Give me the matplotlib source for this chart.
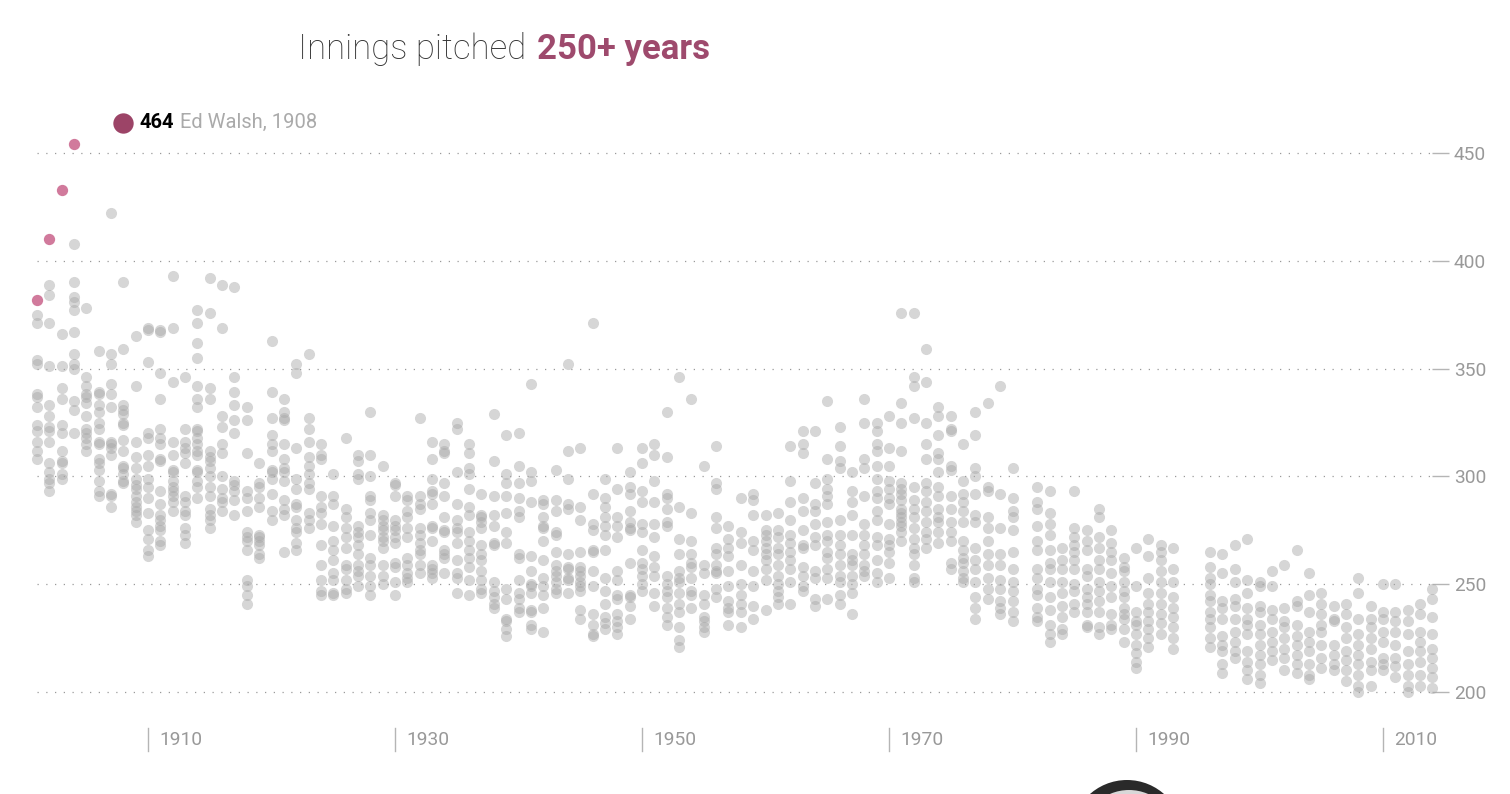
import matplotlib.pyplot as plt
from matplotlib.patches import Ellipse

# innings pitched by pitchers with 250+ IP, one list per season
years = list(range(1901, 1981)) + list(range(1982, 1994)) + list(range(1996, 2015))

innings = [
    [375, 371, 354, 352, 338, 337, 332, 324, 321, 316, 312, 308],  # 1901
    [389, 384, 371, 351, 333, 328, 323, 321, 316, 306, 302, 299, 297, 293],
    [366, 351, 341, 336, 324, 320, 312, 307, 306, 301, 299],
    [408, 390, 383, 381, 377, 367, 357, 352, 350, 335, 331, 320],
    [378, 346, 342, 338, 337, 334, 328, 322, 320, 318, 315, 312],
    [358, 339, 338, 333, 330, 325, 322, 316, 315, 308, 306, 303, 298, 293, 291],
    [422, 357, 352, 343, 338, 332, 316, 315, 313, 310, 292, 291, 286],
    [390, 359, 333, 331, 329, 325, 324, 317, 312, 305, 304, 301, 298, 297],
    [365, 342, 316, 309, 304, 299, 296, 294, 291, 288, 286, 284, 282, 279],
    [369, 368, 353, 320, 318, 310, 305, 299, 295, 290, 283, 275, 271, 266, 263],  # 1910
    [368, 367, 348, 336, 322, 318, 315, 308, 307, 293, 287, 282, 280, 277, 275, 270, 268],
    [393, 369, 344, 316, 310, 303, 302, 298, 295, 293, 291, 288, 284],
    [346, 322, 316, 313, 311, 306, 291, 288, 284, 282, 276, 273, 269],
    [377, 371, 362, 355, 342, 336, 332, 322, 321, 318, 315, 312, 310, 303, 302, 298, 295, 290],
    [392, 376, 341, 336, 312, 309, 307, 304, 300, 295, 291, 285, 282, 280, 276],
    [389, 369, 328, 323, 315, 311, 300, 294, 290, 288, 284],
    [388, 346, 339, 333, 326, 320, 298, 296, 293, 289, 282],
    [332, 326, 311, 293, 290, 284, 274, 272, 270, 266, 252, 249, 245, 241],
    [306, 297, 295, 290, 286, 273, 272, 270, 268, 264, 262],
    [363, 339, 327, 319, 315, 312, 303, 302, 299, 292, 284, 280],  # 1920
    [336, 330, 327, 326, 315, 308, 304, 302, 298, 289, 285, 282, 265],
    [352, 348, 313, 299, 294, 287, 286, 280, 276, 274, 269, 266],
    [357, 327, 322, 316, 309, 305, 301, 297, 294, 283, 280, 276],
    [315, 310, 308, 291, 286, 283, 278, 268, 259, 252, 247, 245],
    [301, 291, 287, 277, 270, 266, 261, 255, 252, 246, 245],
    [318, 285, 281, 276, 272, 267, 259, 257, 252, 248, 246],
    [310, 307, 301, 299, 277, 274, 272, 268, 264, 259, 256, 254, 249],
    [330, 310, 300, 291, 289, 283, 280, 273, 262, 259, 254, 249, 245],
    [305, 282, 280, 277, 275, 272, 270, 267, 259, 254, 250],
    [297, 296, 291, 280, 277, 275, 272, 269, 260, 258, 251, 245],  # 1930
    [291, 289, 284, 281, 276, 272, 262, 259, 255, 253, 251],
    [327, 291, 287, 285, 276, 273, 269, 266, 264, 259, 255],
    [316, 308, 299, 293, 292, 287, 277, 276, 270, 259, 257, 255, 253],
    [315, 312, 311, 297, 291, 281, 275, 274, 266, 264, 262, 255],
    [325, 322, 302, 287, 280, 276, 274, 269, 261, 255, 253, 246],
    [315, 311, 304, 301, 294, 286, 282, 274, 270, 266, 262, 258, 252, 245],
    [292, 282, 281, 279, 276, 268, 264, 261, 256, 252, 248, 246],
    [329, 307, 291, 282, 277, 269, 268, 251, 247, 244, 241, 239],
    [319, 301, 297, 291, 283, 274, 269, 248, 243, 234, 233, 229, 226],
    [320, 305, 297, 290, 284, 281, 264, 262, 252, 246, 243, 239, 237],  # 1940
    [343, 302, 298, 288, 263, 256, 250, 249, 246, 238, 237, 231, 229],
    [289, 287, 281, 277, 276, 270, 261, 253, 249, 245, 239, 228],
    [303, 289, 284, 274, 273, 265, 259, 256, 254, 251, 248, 246],
    [352, 312, 299, 287, 285, 264, 258, 257, 253, 252, 246],
    [313, 286, 280, 265, 258, 256, 254, 251, 249, 247, 238, 234],
    [371, 292, 278, 275, 266, 265, 256, 249, 236, 231, 227, 226],
    [299, 290, 286, 281, 277, 273, 266, 253, 247, 241, 235, 232, 229],
    [313, 294, 281, 277, 272, 256, 252, 245, 243, 236, 233, 230, 227],
    [302, 295, 292, 284, 279, 276, 275, 260, 245, 244, 240, 234],
    [313, 306, 293, 288, 278, 274, 266, 260, 257, 254, 250, 247],  # 1950
    [315, 310, 298, 288, 278, 272, 263, 258, 254, 246, 240],
    [330, 309, 292, 290, 285, 279, 277, 254, 250, 247, 244, 239, 235, 231],
    [346, 286, 271, 264, 256, 253, 251, 246, 241, 237, 230, 224, 221],
    [336, 283, 270, 264, 260, 258, 253, 247, 245, 239],
    [305, 259, 255, 245, 241, 235, 233, 230, 228],
    [314, 297, 294, 281, 276, 267, 264, 259, 256, 255, 248, 244],
    [277, 271, 267, 263, 256, 249, 242, 239, 237, 231],
    [290, 274, 269, 259, 250, 245, 241, 237, 230],
    [292, 289, 282, 270, 266, 256, 249, 240, 234],
    [282, 275, 273, 270, 267, 264, 261, 257, 252, 238],  # 1960
    [283, 275, 272, 267, 264, 259, 254, 250, 247, 244, 241],
    [314, 298, 288, 280, 273, 269, 265, 261, 257, 251, 241],
    [321, 315, 311, 290, 284, 275, 268, 267, 258, 254, 249, 247],
    [321, 297, 287, 284, 278, 272, 268, 256, 253, 243, 240],
    [335, 308, 299, 294, 291, 287, 279, 273, 270, 265, 262, 257, 253, 243],
    [323, 314, 307, 304, 280, 273, 268, 264, 259, 254, 251, 245, 241],
    [302, 293, 288, 282, 273, 264, 261, 259, 254, 250, 246, 236],
    [336, 325, 308, 304, 291, 278, 273, 268, 264, 259, 256, 254],
    [325, 321, 315, 312, 305, 299, 293, 290, 284, 280, 272, 268, 261, 255, 251],
    [328, 313, 305, 298, 294, 290, 287, 278, 271, 268, 265, 260, 253],  # 1970
    [376, 334, 325, 312, 297, 294, 292, 289, 285, 283, 281, 279, 277, 274, 270],
    [376, 346, 342, 327, 295, 289, 285, 281, 276, 271, 267, 264, 259, 253, 251],
    [359, 344, 325, 315, 308, 297, 293, 288, 284, 279, 274, 271, 267],
    [332, 328, 319, 311, 308, 302, 295, 291, 285, 281, 279, 274, 269],
    [328, 322, 321, 305, 303, 291, 285, 279, 274, 270, 260, 257],
    [315, 298, 292, 288, 284, 279, 270, 266, 262, 260, 256, 253, 251],
    [330, 319, 304, 300, 292, 282, 279, 267, 261, 257, 251, 244, 239, 234],
    [334, 295, 293, 281, 276, 270, 264, 259, 253, 248, 243],
    [342, 292, 276, 264, 259, 252, 248, 242, 239, 236],
    [304, 290, 284, 281, 275, 265, 257, 251, 247, 242, 237, 233],  # 1980
    [295, 288, 285, 277, 270, 266, 257, 253, 248, 245, 239, 235, 233],  # 1982
    [293, 283, 278, 273, 266, 260, 257, 251, 244, 238, 231, 227, 223],
    [267, 261, 257, 251, 246, 240, 235, 229, 227],
    [293, 276, 272, 268, 265, 261, 257, 250, 247, 241, 237],
    [275, 270, 266, 257, 254, 248, 244, 241, 237, 231, 230],
    [285, 281, 272, 267, 261, 257, 251, 247, 242, 237, 230, 227],
    [275, 269, 265, 261, 255, 249, 244, 236, 231, 229],
    [262, 258, 256, 251, 247, 244, 239, 236, 234, 229, 223],
    [267, 249, 237, 233, 231, 227, 222, 218, 214, 211],  # 1990
    [271, 263, 253, 246, 241, 237, 233, 229, 225, 221],
    [268, 265, 261, 256, 251, 246, 241, 236, 232, 227],
    [267, 257, 251, 244, 239, 235, 230, 225, 220],
    [265, 258, 253, 250, 245, 242, 237, 234, 230, 225, 221],  # 1996
    [264, 255, 242, 239, 234, 226, 222, 219, 213, 209],
    [268, 257, 251, 243, 240, 234, 228, 223, 219, 216],
    [271, 252, 246, 239, 234, 231, 227, 219, 214, 210, 206],
    [251, 249, 240, 237, 231, 227, 222, 217, 213, 208, 204],  # 2000
    [256, 249, 238, 234, 228, 223, 219, 215],
    [259, 239, 233, 230, 225, 220, 216, 210],
    [266, 242, 240, 231, 226, 222, 217, 213, 209],
    [255, 245, 237, 228, 223, 219, 213, 208, 206],
    [246, 241, 236, 231, 228, 222, 216, 211],
    [240, 234, 233, 222, 217, 213, 210],
    [241, 236, 230, 225, 219, 215, 210, 205],
    [253, 246, 234, 227, 222, 217, 213, 208, 203, 200],
    [240, 234, 230, 225, 220, 214, 210, 203],
    [250, 237, 234, 228, 223, 216, 213, 210],  # 2010
    [250, 237, 233, 228, 222, 216, 212, 207],
    [238, 233, 227, 219, 213, 208, 203, 200],
    [241, 236, 228, 223, 219, 214, 208, 203],
    [248, 243, 235, 227, 220, 216, 211, 207, 202],
]

# seasons that set a new high mark
record_years = [1901, 1902, 1903, 1904]
record_ip = [382, 410, 433, 454]
walsh_year = 1908
walsh_ip = 464

ytick_vals = [200, 250, 300, 350, 400, 450]
xtick_years = [1910, 1930, 1950, 1970, 1990, 2010]

GRAY_TXT = '#999999'
PINK = '#d17a9c'
PLUM = '#9c4467'
FONT = 'Roboto'

W, H = 1510, 794
fig = plt.figure(figsize=(W / 100, H / 100), dpi=100)

# pixel calibration taken from the original graphic
def px_year(px):
    return 1910 + (px - 148) / 12.35

def px_ip(py):
    return 450 - (py - 153) / 2.156

left, right, top, bottom = 37, 1432, 110, 760
ax = fig.add_axes([left / W, 1 - bottom / H, (right - left) / W, (bottom - top) / H])
ax.set_xlim(px_year(left), px_year(right))
ax.set_ylim(px_ip(bottom), px_ip(top))

xs, ys = [], []
for yr, vals in zip(years, innings):
    xs += [yr] * len(vals)
    ys += vals

ax.scatter(xs, ys, s=64, color='#a8a8a8', alpha=0.47, linewidths=0, clip_on=False, zorder=2)
ax.scatter(record_years, record_ip, s=66, color=PINK, linewidths=0, zorder=3, clip_on=False)
ax.scatter([walsh_year], [walsh_ip], s=215, color=PLUM, linewidths=0, zorder=3, clip_on=False)

t464 = ax.annotate(str(walsh_ip), xy=(walsh_year, walsh_ip), xytext=(12, 0),
                   textcoords='offset points', va='center', ha='left',
                   fontsize=14.5, fontweight='bold', color='black', family=FONT)
ax.annotate('Ed Walsh, 1908', xy=(1, 0), xycoords=t464, xytext=(4, 0),
            textcoords='offset points', va='bottom', ha='left',
            fontsize=14.5, color='#aaaaaa', family=FONT)

# y axis on the right, dotted grid
for s in ax.spines.values():
    s.set_visible(False)
ax.set_xticks([])
ax.yaxis.tick_right()
ax.set_yticks(ytick_vals)
ax.tick_params(axis='y', length=12.3, width=1, color='#b5b5b5', labelsize=13.8,
               labelcolor=GRAY_TXT, pad=3.5)
for lab in ax.get_yticklabels():
    lab.set_family(FONT)
ax.grid(axis='y', color='#9a9a9a', linestyle=(0, (1, 6)), linewidth=0.9)
ax.set_axisbelow(True)

# year ticks: short vertical bar with the label to its right
xt = ax.get_xaxis_transform()
for yr in xtick_years:
    ax.plot([yr, yr], [9 / 650, 32 / 650], transform=xt, color='#b5b5b5', lw=1, clip_on=False)
    ax.annotate(str(yr), xy=(yr, 20 / 650), xycoords=xt, xytext=(8, 0),
                textcoords='offset points', va='center', ha='left',
                fontsize=13.8, color=GRAY_TXT, family=FONT)

# title
t1 = fig.text(298 / W, 1 - 49 / H, 'Innings pitched', fontsize=25, color='#333333',
              va='center', ha='left', family=FONT, fontweight='light')
ax.annotate('250+ years', xy=(1, 0), xycoords=t1, xytext=(8, 0), textcoords='offset points',
            va='bottom', ha='left', fontsize=25, fontweight='bold', color='#9e4a6d', family=FONT)

# headshot peeking in at the bottom
fig.add_artist(Ellipse((1127 / W, 1 - 836 / H), 112 / W, 112 / H, transform=fig.transFigure,
                       facecolor='#2a2a2a', edgecolor='none'))
fig.add_artist(Ellipse((1129 / W, 1 - 838 / H), 96 / W, 96 / H, transform=fig.transFigure,
                       facecolor='#d8d8d8', edgecolor='none'))

fig.savefig('out.png', dpi=100)
